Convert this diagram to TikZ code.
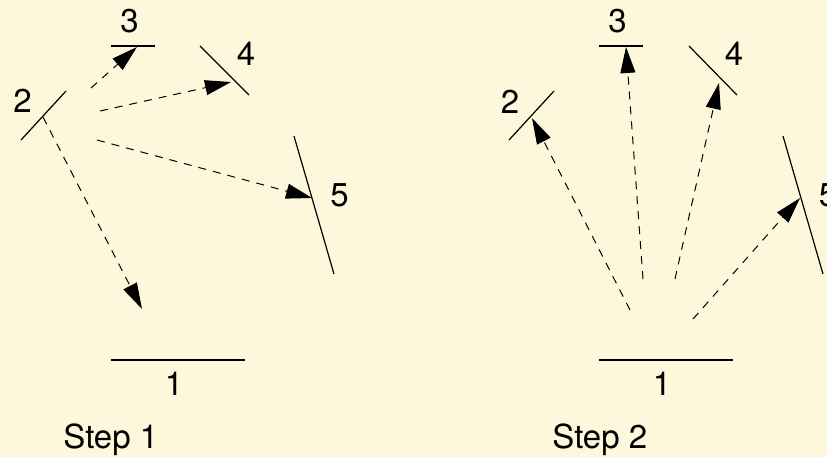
\documentclass[tikz,border=0pt]{standalone}
\usepackage{fontspec}
\setmainfont{TeX Gyre Heros}
\usetikzlibrary{arrows.meta}
\definecolor{bgcream}{RGB}{253,248,220}
\begin{document}
\begin{tikzpicture}[x=0.5pt,y=-0.5pt,
  seg/.style={line width=0.6pt},
  ray/.style={line width=0.5pt,dash pattern=on 4pt off 3.5pt,-{Triangle[length=13pt,width=7.5pt]}},
  lbl/.style={font=\fontsize{16.5}{20}\selectfont,inner sep=0pt},
  steplbl/.style={font=\fontsize{16.5}{20}\selectfont,inner sep=0pt,anchor=base west}]
\fill[bgcream] (0,0) rectangle (827,457);
\useasboundingbox (0,0) rectangle (827,457);
% ---------- Step 1 ----------
\coordinate (a1l) at (111,360); \coordinate (a1r) at (245,360);
\coordinate (a2l) at (21,140);  \coordinate (a2r) at (66,91);
\coordinate (a3l) at (111,46);  \coordinate (a3r) at (155,46);
\coordinate (a4l) at (200,46);  \coordinate (a4r) at (249,95);
\coordinate (a5l) at (294,136); \coordinate (a5r) at (334,274);
\draw[seg] (a1l) -- (a1r);
\draw[seg] (a2l) -- (a2r);
\draw[seg] (a3l) -- (a3r);
\draw[seg] (a4l) -- (a4r);
\draw[seg] (a5l) -- (a5r);
\node[lbl] (an1) at (174,384) {1};
\node[lbl] (an2) at (22.5,101) {2};
\node[lbl] (an3) at (129.5,21.5) {3};
\node[lbl] (an4) at (246,54) {4};
\node[lbl] (an5) at (339.5,195.5) {5};
\coordinate (as3) at (91,88);   \coordinate (at3) at (137,47);
\coordinate (as4) at (100,111); \coordinate (at4) at (231,82);
\coordinate (as5) at (97,140);  \coordinate (at5) at (312,198);
\coordinate (as1) at (43,117);  \coordinate (at1) at (142,309);
\draw[ray] (as3) -- (at3);
\draw[ray] (as4) -- (at4);
\draw[ray] (as5) -- (at5);
\draw[ray] (as1) -- (at1);
\node[steplbl] (step1) at (63,448) {Step 1};
% ---------- Step 2 ----------
\coordinate (b1l) at (599,360); \coordinate (b1r) at (733,360);
\coordinate (b2l) at (509,140); \coordinate (b2r) at (554,91);
\coordinate (b3l) at (599,46);  \coordinate (b3r) at (643,46);
\coordinate (b4l) at (689,46);  \coordinate (b4r) at (737,95);
\coordinate (b5l) at (783,136); \coordinate (b5r) at (823,274);
\draw[seg] (b1l) -- (b1r);
\draw[seg] (b2l) -- (b2r);
\draw[seg] (b3l) -- (b3r);
\draw[seg] (b4l) -- (b4r);
\draw[seg] (b5l) -- (b5r);
\node[lbl] (bn1) at (662,384) {1};
\node[lbl] (bn2) at (510,101.5) {2};
\node[lbl] (bn3) at (617.5,21.5) {3};
\node[lbl] (bn4) at (734,54) {4};
\node[lbl] (bn5) at (828,195.5) {5};
\coordinate (bs2) at (630,310); \coordinate (bt2) at (532,118);
\coordinate (bs3) at (643,279); \coordinate (bt3) at (626,47);
\coordinate (bs4) at (675,279); \coordinate (bt4) at (719,83);
\coordinate (bs5) at (693,319); \coordinate (bt5) at (800,198);
\draw[ray] (bs2) -- (bt2);
\draw[ray] (bs3) -- (bt3);
\draw[ray] (bs4) -- (bt4);
\draw[ray] (bs5) -- (bt5);
\node[steplbl] (step2) at (552,448) {Step 2};
\end{tikzpicture}
\end{document}
